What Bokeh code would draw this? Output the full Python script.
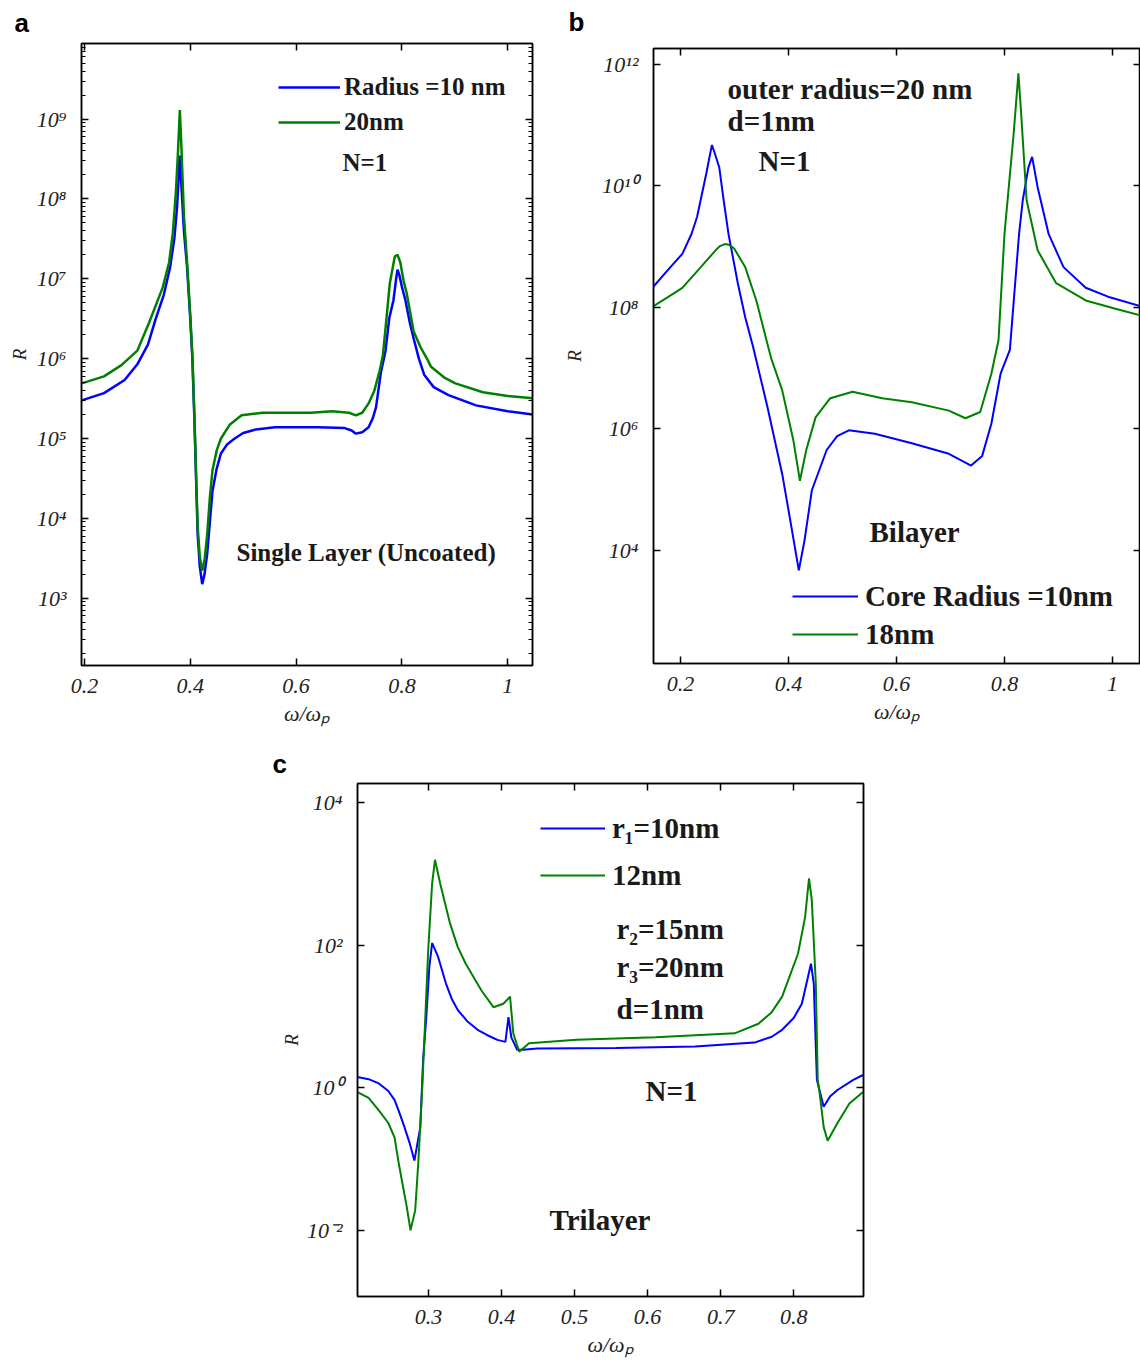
import numpy as np
from bokeh.plotting import figure
from bokeh.models import (Range1d, FixedTicker, LinearAxis, LogAxis, Label,
                          Legend, LegendItem, Spacer)
from bokeh.layouts import column, row
from bokeh.embed import file_html
from bokeh.resources import INLINE

BLUE = "#0000FF"
GREEN = "#008000"

# ---------------- panel a : single layer ----------------
a_w_blue = [0.195, 0.237, 0.276, 0.300, 0.320, 0.335, 0.350, 0.362, 0.370, 0.375, 0.378, 0.380,
            0.383, 0.388, 0.394, 0.400, 0.404, 0.408, 0.411, 0.414, 0.418, 0.4226, 0.427, 0.432,
            0.437, 0.442, 0.450, 0.458, 0.470, 0.484, 0.500, 0.524, 0.560, 0.596, 0.640, 0.692,
            0.705, 0.713, 0.725, 0.737, 0.745, 0.751, 0.760, 0.769, 0.776, 0.784, 0.789, 0.7916,
            0.795, 0.800, 0.8065, 0.815, 0.822, 0.832, 0.842, 0.860, 0.888, 0.940, 1.000, 1.047]
a_R_blue = [3.0e5, 3.7e5, 5.4e5, 8.5e5, 1.5e6, 3.2e6, 6.3e6, 1.4e7, 3.2e7, 7.8e7, 1.8e8, 3.5e8,
            1.6e8, 4.0e7, 1.4e7, 3.2e6, 1.0e6, 1.6e5, 3.2e4, 6.3e3, 2.5e3, 1.5e3, 2.0e3, 3.6e3,
            8.9e3, 2.2e4, 4.2e4, 6.5e4, 8.5e4, 1.0e5, 1.17e5, 1.3e5, 1.38e5, 1.38e5, 1.38e5, 1.35e5,
            1.26e5, 1.15e5, 1.2e5, 1.38e5, 1.8e5, 2.45e5, 6.6e5, 1.26e6, 3.2e6, 5.4e6, 1.0e7, 1.3e7,
            1.12e7, 7.9e6, 5.4e6, 2.8e6, 1.8e6, 1.0e6, 6.3e5, 4.4e5, 3.5e5, 2.6e5, 2.2e5, 2.0e5]
a_w_green = [0.195, 0.237, 0.270, 0.300, 0.322, 0.348, 0.360, 0.367, 0.373, 0.377, 0.3803, 0.383,
             0.388, 0.394, 0.400, 0.404, 0.408, 0.411, 0.414, 0.418, 0.4226, 0.427, 0.432, 0.437,
             0.442, 0.450, 0.458, 0.475, 0.497, 0.537, 0.628, 0.668, 0.700, 0.713, 0.725, 0.737,
             0.748, 0.758, 0.764, 0.770, 0.777, 0.7865, 0.7916, 0.797, 0.803, 0.809, 0.822, 0.835,
             0.849, 0.855, 0.880, 0.901, 0.953, 1.000, 1.047]
a_R_green = [4.9e5, 6.0e5, 8.3e5, 1.26e6, 2.8e6, 7.8e6, 1.6e7, 3.7e7, 1.26e8, 4.1e8, 1.3e9, 5.0e8,
             6.3e7, 1.6e7, 3.5e6, 1.1e6, 1.8e5, 3.5e4, 7.9e3, 3.3e3, 2.2e3, 3.0e3, 6.3e3, 1.8e4,
             4.0e4, 7.1e4, 1.0e5, 1.5e5, 1.95e5, 2.1e5, 2.1e5, 2.2e5, 2.1e5, 1.95e5, 2.1e5, 2.75e5,
             4.0e5, 7.1e5, 1.1e6, 2.8e6, 8.7e6, 1.9e7, 2.0e7, 1.6e7, 9.5e6, 6.6e6, 2.2e6, 1.4e6,
             9.5e5, 7.9e5, 5.8e5, 4.9e5, 3.8e5, 3.4e5, 3.2e5]

# ---------------- panel b : bilayer ----------------
b_w_blue = [0.1498, 0.175, 0.2032, 0.220, 0.2306, 0.2476, 0.253, 0.258, 0.263, 0.2717, 0.280,
            0.2888, 0.306, 0.3197, 0.334, 0.3609, 0.3883, 0.4054, 0.419, 0.4295, 0.4432, 0.4706,
            0.490, 0.5118, 0.5598, 0.6284, 0.697, 0.7381, 0.7587, 0.7758, 0.7928, 0.810, 0.827,
            0.8339, 0.8443, 0.8512, 0.8614, 0.8819, 0.9094, 0.9505, 0.9917, 1.052]
b_R_blue = [2.2e8, 4.0e8, 7.6e8, 1.6e9, 3.1e9, 1.6e10, 2.8e10, 4.7e10, 3.5e10, 2.0e10, 5.6e9,
            1.6e9, 2.5e8, 6.9e7, 2.3e7, 2.3e6, 1.8e5, 2.4e4, 4.7e3, 1.45e4, 9.8e4, 4.5e5,
            7.6e5, 9.5e5, 8.3e5, 5.8e5, 3.9e5, 2.5e5, 3.6e5, 1.23e6, 8.1e6, 2.0e7, 1.6e9,
            5.8e9, 2.0e10, 3.0e10, 9.5e9, 1.6e9, 4.6e8, 2.1e8, 1.5e8, 1.05e8]
b_w_green = [0.1498, 0.175, 0.2032, 0.2374, 0.2649, 0.2730, 0.2819, 0.2900, 0.2992, 0.3197,
             0.3403, 0.3609, 0.3678, 0.3883, 0.4089, 0.4211, 0.4328, 0.450, 0.4773, 0.5186,
             0.5735, 0.6284, 0.697, 0.7277, 0.7551, 0.7757, 0.789, 0.800, 0.817, 0.8258, 0.8306,
             0.841, 0.8614, 0.8958, 0.9505, 1.0054, 1.052]
b_R_green = [1.05e8, 1.45e8, 2.1e8, 4.6e8, 8.7e8, 1.02e9, 1.1e9, 1.07e9, 9.3e8, 4.6e8,
             1.3e8, 2.5e7, 1.45e7, 4.3e6, 6.5e5, 1.4e5, 4.5e5, 1.55e6, 3.2e6, 4.1e6,
             3.2e6, 2.75e6, 2.0e6, 1.5e6, 1.9e6, 8.1e6, 2.9e7, 1.6e9, 7.2e10, 7.1e11, 1.7e11,
             5.8e9, 8.7e8, 2.5e8, 1.3e8, 9.5e7, 7.4e7]

# ---------------- panel c : trilayer ----------------
c_w_blue = [0.2028, 0.218, 0.232, 0.245, 0.2536, 0.260, 0.2671, 0.274, 0.2807, 0.2888, 0.2926,
            0.297, 0.3012, 0.305, 0.3131, 0.3239, 0.3320, 0.3402, 0.3530, 0.3673, 0.3800, 0.3943,
            0.4053, 0.4095, 0.4134, 0.4214, 0.4297, 0.4486, 0.5568, 0.665, 0.7463, 0.7700,
            0.7842, 0.8000, 0.8112, 0.8237, 0.8275, 0.8318, 0.8411, 0.850, 0.860, 0.8816, 0.8949]
c_R_blue = [1.41, 1.32, 1.15, 0.90, 0.67, 0.45, 0.28, 0.17, 0.095, 0.28, 2.45,
            9.8, 50.0, 107.0, 69.0, 29.0, 17.5, 12.3, 8.6, 6.5, 5.5, 4.7,
            4.4, 9.8, 5.1, 3.4, 3.4, 3.55, 3.6, 3.8, 4.3, 5.2,
            6.5, 9.5, 15.1, 55.0, 29.0, 1.29, 0.54, 0.76, 0.93, 1.29, 1.51]
c_w_green = [0.2028, 0.218, 0.232, 0.245, 0.2536, 0.259, 0.2644, 0.270, 0.2754, 0.2818, 0.2862,
             0.2915, 0.2996, 0.305, 0.3089, 0.3159, 0.3294, 0.3400, 0.351, 0.3727, 0.3889,
             0.4025, 0.4117, 0.4161, 0.4242, 0.4377, 0.5026, 0.6109, 0.7192, 0.7517, 0.7700,
             0.7842, 0.8059, 0.8157, 0.821, 0.8248, 0.8303, 0.8329, 0.8356, 0.8411, 0.8465,
             0.860, 0.8763, 0.8949]
c_R_green = [0.87, 0.72, 0.48, 0.32, 0.20, 0.09, 0.045, 0.022, 0.010, 0.019, 0.095,
             1.02, 85.0, 740.0, 1580.0, 740.0, 204.0, 95.0, 55.0, 23.0, 13.5,
             15.1, 19.0, 5.8, 3.2, 4.2, 4.7, 5.1, 5.8, 7.9, 11.5,
             19.0, 76.0, 250.0, 870.0, 430.0, 29.0, 1.29, 0.83, 0.28, 0.18,
             0.32, 0.60, 0.87]

# tick labels
x_ticks_ab = [0.2, 0.4, 0.6, 0.8, 1.0]
x_labels_ab = ["0.2", "0.4", "0.6", "0.8", "1"]
x_ticks_c = [0.3, 0.4, 0.5, 0.6, 0.7, 0.8]
x_labels_c = ["0.3", "0.4", "0.5", "0.6", "0.7", "0.8"]
y_ticks_a = [1e3, 1e4, 1e5, 1e6, 1e7, 1e8, 1e9]
y_labels_a = ["10³", "10⁴", "10⁵", "10⁶", "10⁷", "10⁸", "10⁹"]
y_ticks_b = [1e4, 1e6, 1e8, 1e10, 1e12]
y_labels_b = ["10⁴", "10⁶", "10⁸", "10¹⁰", "10¹²"]
y_ticks_c = [1e-2, 1.0, 1e2, 1e4]
y_labels_c = ["10⁻²", "10⁰", "10²", "10⁴"]

SERIF = "Liberation Serif"
SANS = "Liberation Sans"
XLABEL = "ω/ωₚ"


def style_axis(ax, ticks, labels, minor=(), show=True, label_font="22px"):
    ax.ticker = FixedTicker(ticks=list(ticks), minor_ticks=list(minor))
    ax.major_tick_in = 7
    ax.major_tick_out = 0
    ax.minor_tick_in = 4
    ax.minor_tick_out = 0
    ax.axis_line_color = "black"
    ax.axis_line_width = 1.5
    ax.major_tick_line_color = "black"
    ax.major_tick_line_width = 1.5
    ax.minor_tick_line_color = "black"
    ax.minor_tick_line_width = 1
    if show:
        ax.major_label_overrides = {t: s for t, s in zip(ticks, labels)}
        ax.major_label_text_font = SERIF
        ax.major_label_text_font_style = "italic"
        ax.major_label_text_font_size = label_font
        ax.major_label_text_color = "#222222"
    else:
        ax.major_label_overrides = {t: "" for t in ticks}
        ax.major_label_text_font_size = "0px"
        ax.major_label_standoff = 0


def make_panel(width, height, borders, xr, yr, xt, xl, yt, yl, yminor=(),
               ylab_standoff=14, xlab_standoff=5, letter="a", letter_offset=-67, letter_lift=0):
    l, r, t, b = borders
    p = figure(width=width, height=height, x_range=Range1d(*xr), y_range=Range1d(*yr),
               y_axis_type="log", output_backend="svg", toolbar_location=None,
               min_border_left=l, min_border_right=r, min_border_top=t, min_border_bottom=b)
    p.grid.visible = False
    p.outline_line_color = "black"
    p.outline_line_width = 1.5
    p.background_fill_color = "white"
    p.border_fill_color = "white"

    p.title.text = letter
    p.title.text_font = SANS
    p.title.text_font_size = "26px"
    p.title.text_font_style = "bold"
    p.title.text_color = "black"
    p.title.align = "left"
    p.title.offset = letter_offset
    p.title.standoff = 0

    xb = p.xaxis[0]
    style_axis(xb, xt, xl)
    xb.major_label_standoff = 13
    xb.axis_label = XLABEL
    xb.axis_label_text_font = SERIF
    xb.axis_label_text_font_style = "italic"
    xb.axis_label_text_font_size = "22px"
    xb.axis_label_text_color = "#222222"
    xb.axis_label_standoff = xlab_standoff

    yl_ax = p.yaxis[0]
    style_axis(yl_ax, yt, yl, yminor)
    yl_ax.major_label_standoff = 15
    yl_ax.axis_label = "R"
    yl_ax.axis_label_text_font = SERIF
    yl_ax.axis_label_text_font_style = "italic"
    yl_ax.axis_label_text_font_size = "19px"
    yl_ax.axis_label_text_color = "#222222"
    yl_ax.axis_label_standoff = ylab_standoff

    top = LinearAxis()
    style_axis(top, xt, xl, show=False)
    p.add_layout(top, "above")

    # invisible spacer axis: only lifts the panel letter (title) away from the frame
    lift = LinearAxis()
    style_axis(lift, xt, xl, show=False)
    lift.major_tick_in = 0
    lift.major_tick_out = letter_lift
    lift.major_tick_line_alpha = 0
    lift.minor_tick_line_alpha = 0
    lift.axis_line_alpha = 0
    p.add_layout(lift, "above")

    right = LogAxis()
    style_axis(right, yt, yl, yminor, show=False)
    p.add_layout(right, "right")
    return p


def add_text(p, x, y, text, size="25px"):
    p.add_layout(Label(x=x, y=y, x_units="screen", y_units="screen", text=text,
                       text_font=SERIF, text_font_size=size, text_font_style="bold",
                       text_color="#1a1a1a", text_baseline="middle", text_align="left"))


def add_legend(p, items, x, y, glyph_w, standoff, spacing, size="25px", h=30):
    leg = Legend(items=items, location=(x, y), orientation="vertical",
                 glyph_width=glyph_w, glyph_height=h, label_height=h,
                 label_standoff=standoff, spacing=spacing, padding=0, margin=0,
                 border_line_alpha=0, background_fill_alpha=0,
                 label_text_font=SERIF, label_text_font_size=size,
                 label_text_font_style="bold", label_text_color="#1a1a1a")
    p.add_layout(leg)


# ---- panel a ----
minor_a = [k * 10.0 ** n for n in range(2, 10) for k in range(2, 10)]
pa = make_panel(560, 745, (81, 28, 43, 80), (0.1945, 1.0467), (10 ** 2.157, 10 ** 9.947),
                x_ticks_ab, x_labels_ab, y_ticks_a, y_labels_a, minor_a, ylab_standoff=4,
                letter="a", letter_offset=-67, letter_lift=6)
ra1 = pa.line(a_w_blue, a_R_blue, line_color=BLUE, line_width=2.5)
ra2 = pa.line(a_w_green, a_R_green, line_color=GREEN, line_width=2.5)
add_legend(pa, [LegendItem(label="Radius =10 nm", renderers=[ra1]),
                LegendItem(label="20nm", renderers=[ra2])], 197, 528, 62, 4, 5)
add_text(pa, 261, 503, "N=1")
add_text(pa, 155, 113, "Single Layer (Uncoated)")

# ---- panel b ----
pb = make_panel(580, 745, (93, 0, 48, 82), (0.1498, 1.052), (10 ** 2.14, 10 ** 12.26),
                x_ticks_ab, x_labels_ab, y_ticks_b, y_labels_b, ylab_standoff=14,
                letter="b", letter_offset=-85, letter_lift=12)
rb1 = pb.line(b_w_blue, b_R_blue, line_color=BLUE, line_width=2)
rb2 = pb.line(b_w_green, b_R_green, line_color=GREEN, line_width=2)
add_legend(pb, [LegendItem(label="Core Radius =10nm", renderers=[rb1]),
                LegendItem(label="18nm", renderers=[rb2])], 139, 12, 66, 7, 4, "29px", 34)
add_text(pb, 74, 575, "outer radius=20 nm", "29px")
add_text(pb, 74, 543, "d=1nm", "29px")
add_text(pb, 105, 503, "N=1", "29px")
add_text(pb, 216, 132, "Bilayer", "29px")

# ---- panel c ----
pc = make_panel(600, 626, (87, 7, 38, 75), (0.2028, 0.8956), (10 ** -2.93, 10 ** 4.27),
                x_ticks_c, x_labels_c, y_ticks_c, y_labels_c, ylab_standoff=2,
                letter="c", letter_offset=-85, letter_lift=5)
rc1 = pc.line(c_w_blue, c_R_blue, line_color=BLUE, line_width=2)
rc2 = pc.line(c_w_green, c_R_green, line_color=GREEN, line_width=2)
add_legend(pc, [LegendItem(label="r₁=10nm", renderers=[rc1]),
                LegendItem(label="12nm", renderers=[rc2])], 183, 404, 65, 7, 13, "29px", 34)
add_text(pc, 259, 368, "r₂=15nm", "29px")
add_text(pc, 259, 330, "r₃=20nm", "29px")
add_text(pc, 259, 288, "d=1nm", "29px")
add_text(pc, 288, 206, "N=1", "29px")
add_text(pc, 192, 77, "Trilayer", "29px")

layout = column(row(column(pa), column(pb)), row(Spacer(width=270, height=626), pc))
open("out.html", "w").write(file_html(layout, INLINE))
